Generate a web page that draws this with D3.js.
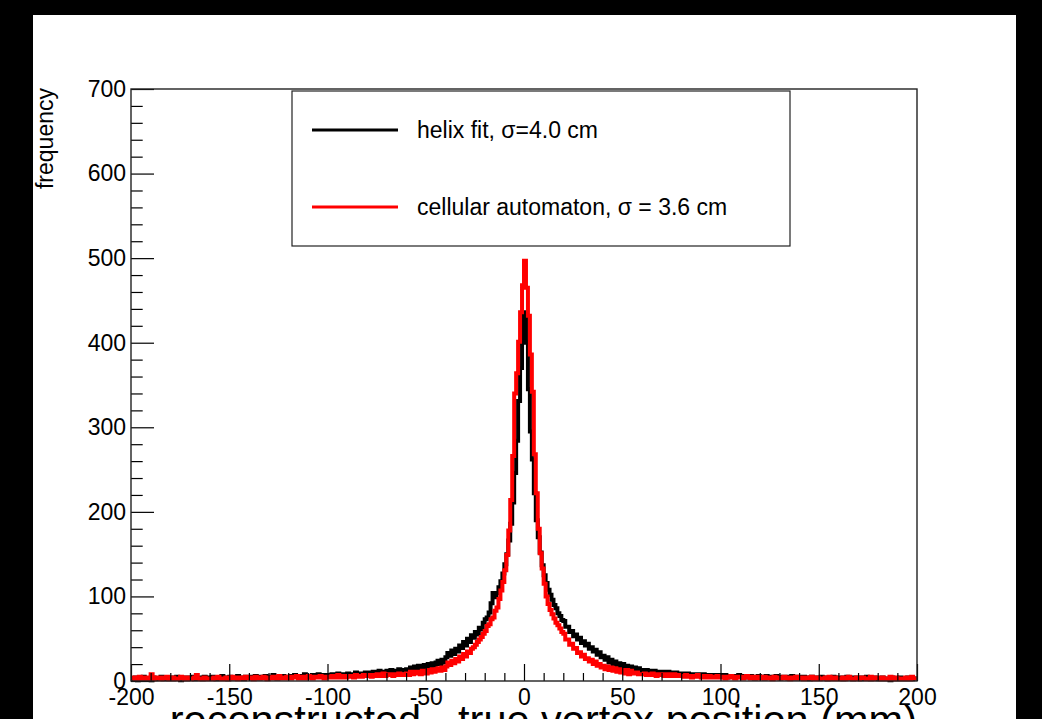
<!DOCTYPE html>
<html>
<head>
<meta charset="utf-8">
<script src="https://cdn.jsdelivr.net/npm/d3@7"></script>
<style>
  html, body { margin: 0; padding: 0; background: #000; }
  svg { display: block; }
  text { font-family: "Liberation Sans", Arial, Helvetica, sans-serif; fill: #000; }
</style>
</head>
<body>
<div id="chart"></div>
<script>
// histogram range (mm), 1 mm bins
const binLow = -200;
const binHigh = 200;
const binWidth = 1;

const xMajorTicks = [-200, -150, -100, -50, 0, 50, 100, 150, 200];
const yMajorTicks = [0, 100, 200, 300, 400, 500, 600, 700];

const seriesNames = ['helix fit, \u03c3=4.0 cm', 'cellular automaton, \u03c3 = 3.6 cm'];

// counts per bin, from -200 mm to +200 mm
const helixFit = [
  3,2,4,1,3,2,5,3,2,3,1,4,2,3,3,5,2,3,4,2,
  4,2,3,5,3,1,4,3,2,4,3,5,2,3,4,3,2,5,3,4,
  3,5,4,2,4,3,6,4,3,2,5,4,3,4,6,3,4,2,5,4,
  5,3,4,6,4,3,5,4,6,3,4,5,7,4,3,5,4,6,5,4,
  4,6,5,7,5,4,6,5,8,5,6,4,7,5,6,8,5,6,7,5,
  7,5,8,6,7,9,6,7,8,6,9,7,8,7,10,8,7,9,8,10,
  9,8,10,11,9,10,12,9,11,10,12,11,13,10,12,11,14,12,13,12,
  14,12,16,13,17,14,18,15,14,19,16,20,17,21,18,22,24,20,25,22,
  28,33,30,36,32,38,35,42,39,46,42,50,46,54,51,58,55,63,61,69,
  73,75,81,92,104,99,104,111,118,127,138,150,166,186,211,246,284,331,370,415,
  436,400,345,295,262,222,190,170,152,137,125,116,108,102,96,90,86,80,77,72,
  71,64,64,58,59,53,55,49,51,45,47,42,44,38,40,35,37,31,34,28,
  30,25,28,22,25,20,23,18,21,16,20,15,18,14,17,13,16,12,15,11,
  13,12,13,11,12,11,12,10,11,10,11,9,10,11,9,10,9,10,8,9,
  9,8,7,9,8,7,8,6,8,7,6,8,7,6,7,5,7,6,5,7,
  6,5,7,4,6,5,6,4,5,7,5,4,6,5,4,6,5,3,5,6,
  4,5,3,6,4,5,3,4,6,4,3,5,4,5,3,4,6,3,4,5,
  3,4,5,3,4,2,5,4,3,4,3,5,3,4,2,4,3,5,3,4,
  3,4,2,3,5,3,4,2,3,4,3,2,4,3,5,3,2,3,4,3,
  2,3,4,2,3,3,1,4,3,2,3,4,2,3,2,4,3,2,3,3
];

const cellularAutomaton = [
  3,4,2,3,5,2,3,4,2,3,8,2,3,4,3,2,4,3,5,2,
  2,4,3,2,3,5,3,2,4,3,2,3,4,7,3,2,3,4,2,3,
  3,2,4,3,5,3,2,3,4,2,3,5,3,4,2,3,4,3,5,3,
  4,3,2,5,3,4,3,5,4,2,4,3,5,3,4,6,3,4,3,5,
  4,3,5,4,6,3,4,5,3,4,6,4,3,5,4,5,6,4,3,5,
  5,4,6,4,5,7,4,5,6,4,5,6,5,4,7,5,6,5,7,6,
  6,7,5,7,6,8,6,7,9,6,7,8,7,6,8,7,9,8,7,8,
  9,7,11,8,9,11,10,8,12,10,9,13,10,14,11,13,15,12,16,13,
  17,22,19,24,21,26,23,29,26,32,29,35,33,38,40,43,46,49,52,56,
  59,65,67,73,75,83,87,97,107,117,131,149,178,214,266,340,364,401,436,468,
  497,465,432,386,342,268,222,180,151,133,115,100,91,84,79,74,69,66,62,58,
  56,49,49,43,44,38,39,33,34,29,31,26,27,23,25,20,23,18,20,16,
  18,14,17,13,16,12,15,11,14,10,13,9,13,8,12,9,9,10,8,8,
  8,9,7,8,7,9,8,6,8,7,8,6,7,8,6,7,8,6,7,6,
  6,5,7,5,6,4,6,5,7,5,4,6,5,4,6,5,4,5,6,4,
  5,4,3,5,4,6,4,3,5,4,5,3,4,6,4,3,5,4,3,5,
  4,3,5,4,3,4,2,5,3,4,4,3,5,3,4,2,4,3,5,3,
  3,4,2,3,4,3,5,2,3,4,2,3,3,4,2,5,3,2,4,3,
  2,3,4,2,3,5,3,2,3,4,2,3,4,3,2,3,5,2,3,4,
  3,2,4,3,2,3,5,2,3,4,2,3,3,2,4,3,2,5,3,3
];

const W = 1042, H = 719;
const frame = { left: 131, right: 917, top: 89, bottom: 681 };

const svg = d3.select('#chart')
  .append('svg')
  .attr('width', W)
  .attr('height', H);

// black surround + white canvas pad
svg.append('rect').attr('width', W).attr('height', H).attr('fill', '#000');
svg.append('rect')
  .attr('x', 33).attr('y', 15)
  .attr('width', 983).attr('height', H)
  .attr('fill', '#fff');

const x = d3.scaleLinear().domain([binLow, binHigh]).range([frame.left, frame.right]);
const y = d3.scaleLinear().domain([0, 700]).range([frame.bottom, frame.top]);

// histogram outlines as steps
const stepLine = d3.line()
  .x(d => x(d[0]))
  .y(d => y(d[1]))
  .curve(d3.curveStepAfter);

const toSteps = counts => {
  const pts = counts.map((c, i) => [binLow + i * binWidth, c]);
  pts.push([binHigh, counts[counts.length - 1]]);
  return pts;
};

svg.append('path')
  .datum(toSteps(helixFit))
  .attr('d', stepLine)
  .attr('fill', 'none')
  .attr('stroke', '#000')
  .attr('stroke-width', 4);

svg.append('path')
  .datum(toSteps(cellularAutomaton))
  .attr('d', stepLine)
  .attr('fill', 'none')
  .attr('stroke', '#ff0000')
  .attr('stroke-width', 4);

// minor ticks first (no labels)
const xMinor = d3.range(binLow, binHigh + 1, 10).filter(v => v % 50 !== 0);
const yMinor = d3.range(0, 701, 20).filter(v => v % 100 !== 0);

svg.append('g')
  .attr('transform', `translate(0,${frame.bottom})`)
  .call(d3.axisBottom(x).tickValues(xMinor).tickSizeInner(-8).tickSizeOuter(0).tickFormat(''))
  .call(g => g.select('.domain').remove());

svg.append('g')
  .attr('transform', `translate(${frame.left},0)`)
  .call(d3.axisLeft(y).tickValues(yMinor).tickSizeInner(-11.7).tickSizeOuter(0).tickFormat(''))
  .call(g => g.select('.domain').remove());

// major ticks with labels (plain hyphen minus, as in the original)
const plain = d => String(d);

const xAxis = svg.append('g')
  .attr('transform', `translate(0,${frame.bottom})`)
  .call(d3.axisBottom(x).tickValues(xMajorTicks).tickSizeInner(-17).tickSizeOuter(0).tickPadding(8).tickFormat(plain))
  .call(g => g.select('.domain').remove());

xAxis.selectAll('text')
  .attr('font-size', 23)
  .attr('font-family', '"Liberation Sans", Arial, sans-serif')
  .style('fill', '#000');

const yAxis = svg.append('g')
  .attr('transform', `translate(${frame.left},0)`)
  .call(d3.axisLeft(y).tickValues(yMajorTicks).tickSizeInner(-23).tickSizeOuter(0).tickPadding(5).tickFormat(plain))
  .call(g => g.select('.domain').remove());

yAxis.selectAll('text')
  .attr('font-size', 23)
  .attr('font-family', '"Liberation Sans", Arial, sans-serif')
  .style('fill', '#000');

svg.selectAll('.tick line').attr('stroke', '#000').attr('stroke-width', 1.2);

// frame
svg.append('rect')
  .attr('x', frame.left)
  .attr('y', frame.top)
  .attr('width', frame.right - frame.left)
  .attr('height', frame.bottom - frame.top)
  .attr('fill', 'none')
  .attr('stroke', '#222')
  .attr('stroke-width', 1.4);

// axis titles
svg.append('text')
  .attr('transform', 'translate(53,88) rotate(-90)')
  .attr('text-anchor', 'end')
  .attr('font-size', 23)
  .text('frequency');

svg.append('text')
  .attr('x', frame.right)
  .attr('y', 734)
  .attr('text-anchor', 'end')
  .attr('font-size', 41.5)
  .text('reconstructed - true vertex position (mm)');

// legend
const legend = svg.append('g');
legend.append('rect')
  .attr('x', 292).attr('y', 91)
  .attr('width', 498).attr('height', 155)
  .attr('fill', '#fff')
  .attr('stroke', '#222')
  .attr('stroke-width', 1.2);

const legendColors = ['#000', '#ff0000'];
const legendY = [130, 207];

seriesNames.forEach((name, i) => {
  legend.append('line')
    .attr('x1', 312).attr('x2', 398)
    .attr('y1', legendY[i]).attr('y2', legendY[i])
    .attr('stroke', legendColors[i])
    .attr('stroke-width', 3);
  legend.append('text')
    .attr('x', 417)
    .attr('y', legendY[i] + 8)
    .attr('font-size', 23)
    .text(name);
});
</script>
</body>
</html>
